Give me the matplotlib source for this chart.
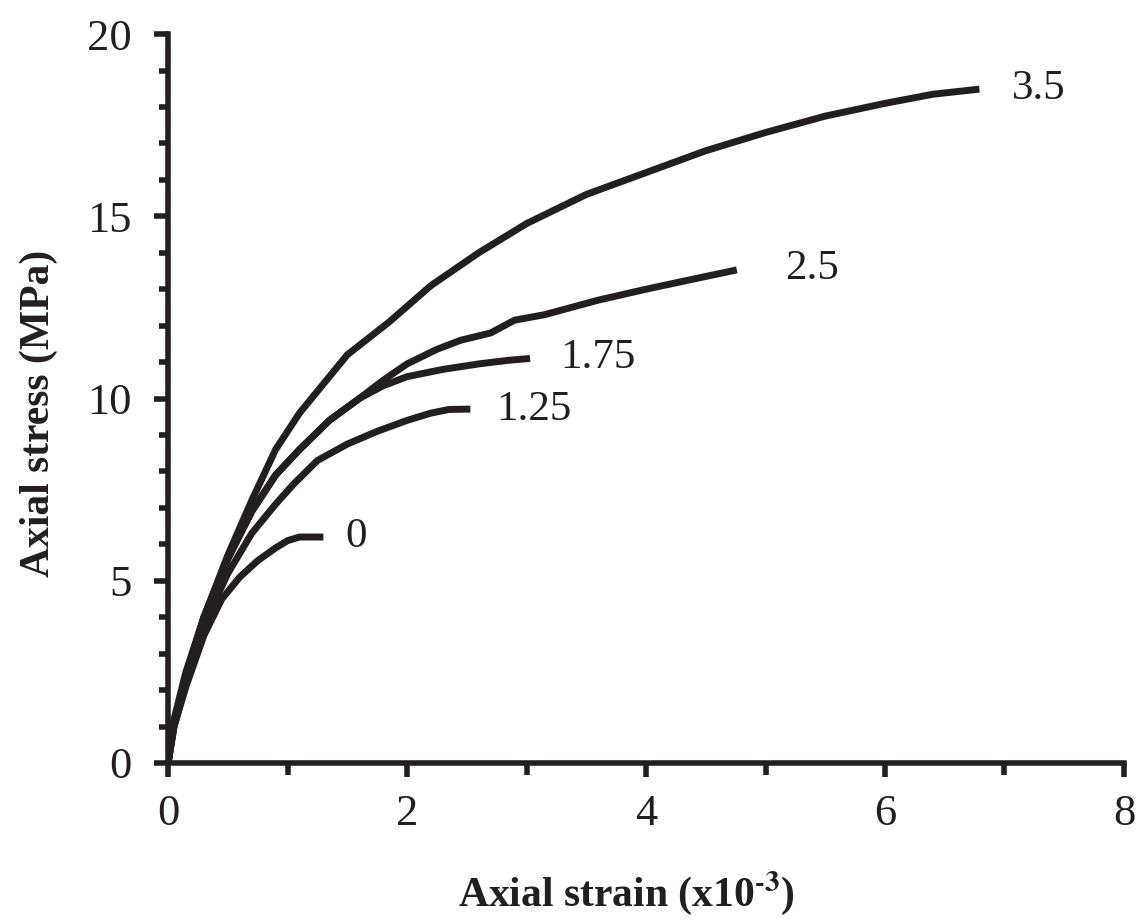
import numpy as np
import matplotlib.pyplot as plt

# stress-strain curves, labelled by confining level
labels = ['0', '1.25', '1.75', '2.5', '3.5']

strain_0 = [0, 0.05, 0.15, 0.3, 0.45, 0.6, 0.75, 0.9, 1.0, 1.1, 1.3]
stress_0 = [0, 1.0, 2.1, 3.5, 4.5, 5.1, 5.55, 5.9, 6.1, 6.2, 6.2]

strain_125 = [0, 0.05, 0.15, 0.3, 0.5, 0.7, 0.9, 1.05, 1.25, 1.5, 1.75, 2.0, 2.2, 2.35, 2.53]
stress_125 = [0, 1.0, 2.2, 3.8, 5.2, 6.3, 7.1, 7.65, 8.3, 8.75, 9.1, 9.4, 9.6, 9.7, 9.71]

strain_175 = [0, 0.05, 0.15, 0.3, 0.5, 0.7, 0.9, 1.1, 1.35, 1.6, 1.8, 2.0, 2.3, 2.6, 2.85, 3.03]
stress_175 = [0, 1.1, 2.4, 4.0, 5.6, 6.9, 7.9, 8.6, 9.4, 10.0, 10.35, 10.6, 10.8, 10.95, 11.05, 11.1]

strain_25 = [0, 0.05, 0.15, 0.3, 0.5, 0.7, 0.9, 1.1, 1.35, 1.6, 1.8, 2.0, 2.25, 2.45, 2.7, 2.9, 3.15, 3.6, 4.0, 4.5, 4.76]
stress_25 = [0, 1.1, 2.4, 4.0, 5.6, 6.9, 7.9, 8.6, 9.4, 10.0, 10.5, 10.95, 11.35, 11.6, 11.8, 12.15, 12.3, 12.7, 13.0, 13.35, 13.53]

strain_35 = [0, 0.05, 0.15, 0.3, 0.5, 0.7, 0.9, 1.1, 1.3, 1.5, 1.85, 2.2, 2.6, 3.0, 3.5, 4.0, 4.5, 5.0, 5.5, 6.0, 6.4, 6.79]
stress_35 = [0, 1.2, 2.5, 4.0, 5.7, 7.2, 8.6, 9.6, 10.4, 11.2, 12.1, 13.1, 14.0, 14.8, 15.6, 16.2, 16.8, 17.3, 17.75, 18.1, 18.35, 18.49]

curves = [(strain_0, stress_0), (strain_125, stress_125), (strain_175, stress_175),
          (strain_25, stress_25), (strain_35, stress_35)]

# label anchor (left edge, vertical centre)
label_x = [1.48, 2.75, 3.28, 5.16, 7.06]
label_y = [6.2, 9.68, 11.12, 13.55, 18.5]

ink = '#231f20'
plt.rcParams['font.family'] = ['Liberation Serif', 'DejaVu Serif']
plt.rcParams['mathtext.fontset'] = 'stix'

fig = plt.figure(figsize=(11.44, 9.22), dpi=100)
ax = fig.add_axes([0.1469, 0.1725, 0.9825 - 0.1469, 0.963 - 0.1725])

for (sx, sy) in curves:
    ax.plot(sx, sy, color=ink, lw=5, solid_capstyle='butt', solid_joinstyle='round')

for lab, lx, ly in zip(labels, label_x, label_y):
    ax.text(lx, ly, lab, fontsize=31, color=ink, ha='left', va='center')

ax.set_xlim(0, 8)
ax.set_ylim(0, 20)
ax.set_xticks([0, 2, 4, 6, 8])
ax.set_xticks([1, 3, 5, 7], minor=True)
ax.set_yticks([0, 5, 10, 15, 20])
ax.set_yticks(np.arange(0, 21, 1), minor=True)

for s in ['top', 'right']:
    ax.spines[s].set_visible(False)
for s in ['left', 'bottom']:
    ax.spines[s].set_linewidth(4)
    ax.spines[s].set_color(ink)

ax.tick_params(axis='both', which='major', direction='out', length=10, width=4,
               color=ink, labelsize=32, labelcolor=ink)
ax.tick_params(axis='y', which='major', pad=16)
ax.tick_params(axis='x', which='major', pad=12)
ax.tick_params(axis='y', which='minor', direction='out', length=6.5, width=4, color=ink)
ax.tick_params(axis='x', which='minor', direction='out', length=8.5, width=4, color=ink)

ax.set_xlabel('Axial strain (x10$^{\\mathbf{\u2010 3}}$)'.replace('\u2010 ', '\u2010'),
              fontsize=30, fontweight='bold', color=ink)
ax.set_ylabel('Axial stress (MPa)', fontsize=30, fontweight='bold', color=ink)
ax.xaxis.set_label_coords(0.48, -0.145)
ax.yaxis.set_label_coords(-0.115, 0.48)

fig.savefig('out.png', dpi=100)
